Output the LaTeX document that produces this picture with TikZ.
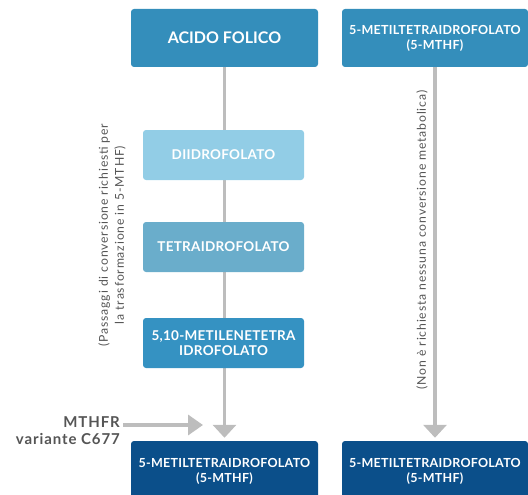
\documentclass[tikz,border=0pt]{standalone}
\usepackage{fontspec}
\setmainfont{Lato}
\newfontfamily\boxfont{Lato}[LetterSpace=2]
\newfontfamily\mfont{Lato}[LetterSpace=6]
\newfontfamily\sidefont{Lato}[LetterSpace=7]
\usetikzlibrary{arrows.meta,backgrounds}
\definecolor{topblue}{HTML}{348EBB}
\definecolor{lightblue}{HTML}{92CDE6}
\definecolor{midblue}{HTML}{6AADCB}
\definecolor{stepblue}{HTML}{3592C2}
\definecolor{darkblue}{HTML}{0B4F8A}
\definecolor{linegray}{HTML}{BDBDBD}
\definecolor{textgray}{HTML}{555555}
\tikzset{
  box/.style={rectangle, rounded corners=3pt, text=white, align=center, inner sep=0pt,
    font=\boxfont\bfseries\fontsize{12.5}{15}\selectfont},
  bigbox/.style={box, minimum width=187pt, minimum height=58pt},
  stepbox/.style={box, minimum width=161pt, minimum height=50pt, font=\boxfont\bfseries\fontsize{13.5}{15}\selectfont},
  conn/.style={draw=linegray, line width=3.5pt, -{Triangle[width=23pt,length=13pt]}},
  sidelabel/.style={rotate=90, text=textgray, align=center, inner sep=0pt,
    font=\sidefont\fontsize{12.2}{16}\selectfont},
  mlabel/.style={text=textgray, inner sep=0pt, font=\mfont\bfseries\fontsize{15}{17}\selectfont},
}
\begin{document}
\begin{tikzpicture}[x=1pt,y=-1pt]
\useasboundingbox (0,0) rectangle (528,495);
\clip (0,0) rectangle (528,495);
\node[bigbox, fill=topblue, font=\bfseries\fontsize{16}{18}\selectfont] (acido) at (224.5,38) {ACIDO FOLICO};
\node[bigbox, fill=topblue, minimum width=186pt] (mthfA) at (435,38) {5-METILTETRAIDROFOLATO\\(5-MTHF)};
\node[stepbox, fill=lightblue] (dii) at (223.5,155) {DIIDROFOLATO};
\node[stepbox, fill=midblue] (tetra) at (223.5,247) {TETRAIDROFOLATO};
\node[stepbox, fill=stepblue] (meti) at (223.5,343) {5,10-METILENETETRA\\IDROFOLATO};
\node[bigbox, fill=darkblue, minimum height=60pt] (outL) at (224.5,471) {5-METILTETRAIDROFOLATO\\(5-MTHF)};
\node[bigbox, fill=darkblue, minimum height=60pt, minimum width=186pt] (outR) at (435,471) {5-METILTETRAIDROFOLATO\\(5-MTHF)};
\node[sidelabel] (lblL) at (112,235) {(Passaggi di conversione richiesti per\\la trasformazione in 5-MTHF)};
\node[sidelabel] (lblR) at (422,240) {(Non è richiesta nessuna conversione metabolica)};
\node[mlabel, anchor=base east] (m1) at (120,427.5) {MTHFR};
\node[mlabel, anchor=base east] (m2) at (120,444) {variante C677};
\coordinate (mtip) at (203,425);
\begin{scope}[on background layer]
\draw[conn, shorten >=3pt] (acido.south) -- (outL.north);
\end{scope}
\draw[conn, shorten >=3pt] (mthfA.south) -- (outR.north);
\draw[conn, -{Triangle[width=20pt,length=15pt]}] ([xshift=3pt]m1.east |- mtip) -- (mtip);
\end{tikzpicture}
\end{document}
